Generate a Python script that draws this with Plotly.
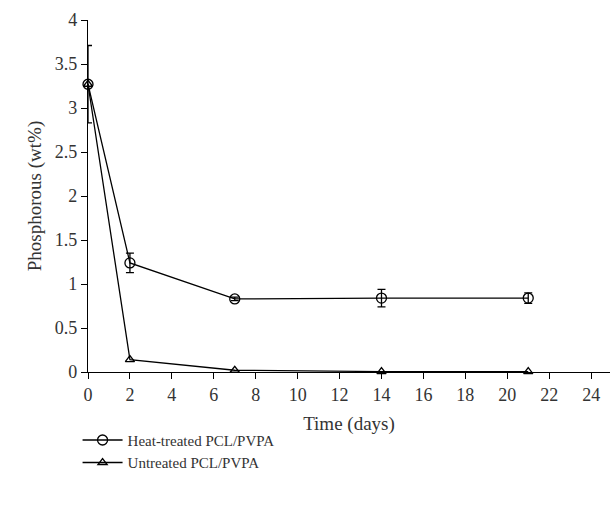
import plotly.graph_objects as go

days = [0, 2, 7, 14, 21]
heat_treated = [3.27, 1.24, 0.83, 0.84, 0.84]
heat_err = [0.44, 0.11, 0.02, 0.10, 0.06]
untreated = [3.27, 0.14, 0.02, 0.005, 0.005]

font_family = "Liberation Serif"
txt = "#333333"

fig = go.Figure()
fig.add_trace(go.Scatter(
    x=days, y=heat_treated, name="Heat-treated PCL/PVPA",
    mode="lines+markers", cliponaxis=False,
    line=dict(color="black", width=1.3),
    marker=dict(symbol="circle-open", size=10, color="black", line=dict(width=1.3)),
    error_y=dict(type="data", array=heat_err, visible=True, color="black", thickness=1.3, width=4),
))
fig.add_trace(go.Scatter(
    x=days, y=untreated, name="Untreated PCL/PVPA",
    mode="lines+markers", cliponaxis=False,
    line=dict(color="black", width=1.3),
    marker=dict(symbol="triangle-up-open", size=8, color="black", line=dict(width=1.3)),
))

fig.update_layout(
    width=613, height=510,
    margin=dict(l=88, r=3, t=20, b=138, autoexpand=False),
    paper_bgcolor="white", plot_bgcolor="white",
    font=dict(family=font_family, size=16, color=txt),
    showlegend=True,
    legend=dict(x=-0.02, y=-0.147, xanchor="left", yanchor="top",
                font=dict(size=15, color=txt), tracegroupgap=0,
                itemwidth=40, bgcolor="rgba(0,0,0,0)"),
    xaxis=dict(range=[0, 24.9], tickvals=list(range(0, 25, 2)),
               automargin=False,
               showline=True, linecolor="black", linewidth=1.3,
               ticks="outside", ticklen=6, tickcolor="black", tickwidth=1.3,
               tickfont=dict(size=18, color=txt),
               showgrid=False, zeroline=False,
               title=dict(text="Time (days)", standoff=12, font=dict(size=19, color=txt))),
    yaxis=dict(range=[0, 4], tickvals=[0, 0.5, 1, 1.5, 2, 2.5, 3, 3.5, 4],
               ticktext=["0", "0.5", "1", "1.5", "2", "2.5", "3", "3.5", "4"],
               automargin=False,
               showline=True, linecolor="black", linewidth=1.3,
               ticks="outside", ticklen=6, tickcolor="black", tickwidth=1.3,
               tickfont=dict(size=18, color=txt),
               showgrid=False, zeroline=False,
               title=dict(text="Phosphorous (wt%)", standoff=8, font=dict(size=19, color=txt))),
)

fig.write_html("out.html", config={"displayModeBar": False},
               post_script="document.body.style.margin='0px';")
